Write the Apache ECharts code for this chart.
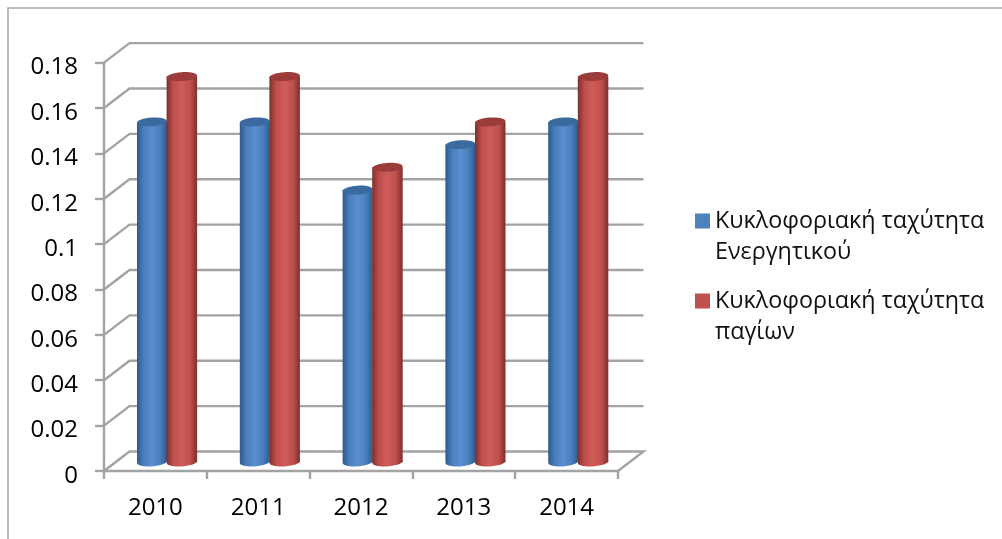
<!DOCTYPE html>
<html><head><meta charset="utf-8">
<style>html,body{margin:0;padding:0;background:#fff}#c{width:1002px;height:539px}</style>
<script src="https://cdn.jsdelivr.net/npm/echarts@6/dist/echarts.min.js"></script>
</head><body><div id="c"></div>
<script>
var categories = ['2010','2011','2012','2013','2014'];
var assetTurnover = [0.15,0.15,0.12,0.14,0.15];
var fixedTurnover = [0.17,0.17,0.13,0.15,0.17];
var yTicks = [0,0.02,0.04,0.06,0.08,0.1,0.12,0.14,0.16,0.18];
var nameBlue = 'Κυκλοφοριακή ταχύτητα\nΕνεργητικού';
var nameRed = 'Κυκλοφοριακή ταχύτητα\nπαγίων';

var FONT = '"Open Sans"';
var GREY = '#a3a3a3';
var chart = echarts.init(document.getElementById('c'), null, {renderer:'canvas'});

function wallItem(params, api){
  var y = api.coord([0, api.value(1)])[1];
  var cs = params.coordSys;
  var dx = 25.5, dy = 19.5;
  var pts = [[cs.x, y],[cs.x+dx, y-dy],[cs.x+cs.width+dx, y-dy]];
  if (api.value(1) === 0) pts.push([cs.x+cs.width, y]);
  return {type:'polyline', shape:{points:pts}, style:{stroke:GREY, lineWidth:2.4, fill:null}, silent:true};
}
function cylinder(shift, w, edge, mid, light, topCol){
  return function(params, api){
    var c = api.coord([api.value(0), api.value(1)]);
    var base = api.coord([api.value(0), 0])[1] - 9;
    var top = c[1] - 8.7;
    var x = c[0] + shift, rx = w/2, ry = 4.4, cx = x + rx;
    var grad = new echarts.graphic.LinearGradient(0,0,1,0,[
      {offset:0,color:edge},{offset:0.22,color:mid},{offset:0.5,color:light},
      {offset:0.78,color:mid},{offset:1,color:edge}]);
    return {type:'group', silent:true, children:[
      {type:'ellipse', shape:{cx:cx, cy:base, rx:rx, ry:ry}, rotation:0.06, originX:cx, originY:base, style:{fill:grad}},
      {type:'rect', shape:{x:x, y:top, width:w, height:base-top}, style:{fill:grad}},
      {type:'ellipse', shape:{cx:cx, cy:top, rx:rx, ry:ry}, rotation:0.06, originX:cx, originY:top, style:{fill:topCol}}
    ]};
  };
}
function pairs(arr){ return arr.map(function(v,i){return [i,v];}); }

chart.setOption({
  animation:false,
  backgroundColor:'#fff',
  grid:{left:104, right:384, top:62.6, bottom:68},
  xAxis:{type:'category', data:categories,
    axisLine:{lineStyle:{color:GREY,width:2.4}},
    axisTick:{show:true,length:8,alignWithLabel:false,lineStyle:{color:GREY,width:2.4}},
    axisLabel:{color:'#000',fontFamily:FONT,fontSize:24,margin:25},
    splitLine:{show:false}},
  yAxis:{type:'value',min:0,max:0.18,interval:0.02,
    axisLine:{show:true,lineStyle:{color:GREY,width:2.4}},
    axisTick:{show:true,length:9,lineStyle:{color:GREY,width:2.4}},
    axisLabel:{color:'#000',fontFamily:FONT,fontSize:24,margin:26,verticalAlign:'top',lineHeight:10,
      formatter:function(v){return String(+v.toFixed(2));}},
    splitLine:{show:false}},
  legend:{data:[nameBlue,nameRed],orient:'vertical',left:695,top:174.5,padding:0,
    icon:'rect',itemWidth:15,itemHeight:15,itemGap:-13,selectedMode:false,
    formatter:function(n){return '\n'+n;},
    textStyle:{color:'#111',fontFamily:FONT,fontSize:23.3,lineHeight:31}},
  graphic:[{type:'polyline',shape:{points:[[8,539],[8,8],[1002,8]]},
    style:{stroke:'#a8a8a8',lineWidth:1.5,fill:null},silent:true}],
  series:[
    {type:'custom',name:'walls',data:yTicks.map(function(v){return [0,v];}),renderItem:wallItem,
      encode:{x:0,y:1},clip:false,z:1,silent:true},
    {type:'custom',name:nameBlue,data:pairs(assetTurnover),
      renderItem:cylinder(-18.4,30,'#2e5a8e','#4a7ebb','#5a8fd0','#3b6aa0'),
      encode:{x:0,y:1},clip:false,z:2,color:'#4f81bd',itemStyle:{color:'#4f81bd'},silent:true},
    {type:'custom',name:nameRed,data:pairs(fixedTurnover),
      renderItem:cylinder(11.2,30.5,'#7e2f2d','#be4f4c','#d05c59','#9b3c3a'),
      encode:{x:0,y:1},clip:false,z:3,color:'#c0504d',itemStyle:{color:'#c0504d'},silent:true}
  ]
});
</script></body></html>
